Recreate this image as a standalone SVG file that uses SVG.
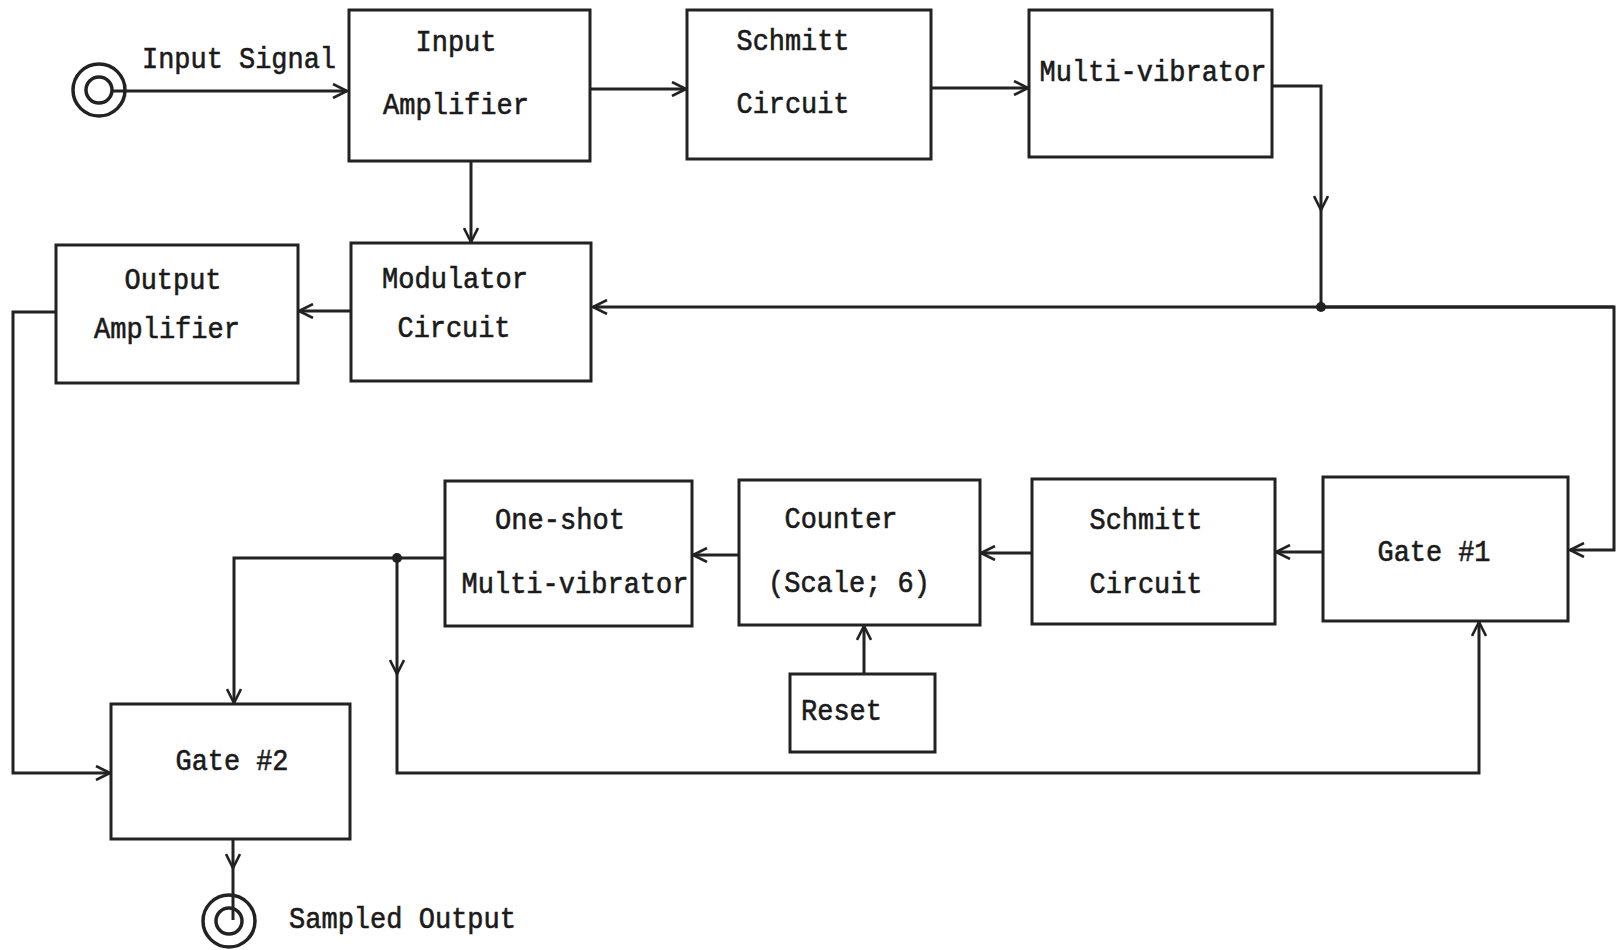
<svg xmlns="http://www.w3.org/2000/svg" width="1616" height="950" viewBox="0 0 1616 950">
<defs>
<marker id="arr" viewBox="0 0 16 16" refX="15" refY="8" markerWidth="16" markerHeight="16" markerUnits="userSpaceOnUse" orient="auto">
<path d="M1,1 L15,8 L1,15" fill="none" stroke="#222" stroke-width="2.6"/>
</marker>
<style>
.box{fill:#fff;stroke:#222;stroke-width:3}
.ln{fill:none;stroke:#222;stroke-width:3}
.t{font-family:"Liberation Mono","Courier New",monospace;font-size:29px;fill:#1a1a1a;stroke:#1a1a1a;stroke-width:0.6;text-anchor:middle}
.ts{text-anchor:start}
.dot{fill:#222}
.ring{fill:none;stroke:#222;stroke-width:3.5}
</style>
</defs>
<rect width="1616" height="950" fill="#fff"/>
<g id="connectors">
<path class="ln" d="M112,91 H347" marker-end="url(#arr)"/>
<path class="ln" d="M590,89 H686" marker-end="url(#arr)"/>
<path class="ln" d="M931,88 H1028" marker-end="url(#arr)"/>
<path class="ln" d="M1272,86 H1321 V210" marker-end="url(#arr)"/>
<path class="ln" d="M1321,206 V307"/>
<path class="ln" d="M1614,307 H593" marker-end="url(#arr)"/>
<path class="ln" d="M1321,307 H1614 V550 H1570" marker-end="url(#arr)"/>
<path class="ln" d="M471,161 V242" marker-end="url(#arr)"/>
<path class="ln" d="M351,311 H299" marker-end="url(#arr)"/>
<path class="ln" d="M56,312 H13 V773 H110" marker-end="url(#arr)"/>
<path class="ln" d="M233,839 V868" marker-end="url(#arr)"/>
<path class="ln" d="M233,864 V920"/>
<path class="ln" d="M1323,552 H1276" marker-end="url(#arr)"/>
<path class="ln" d="M1032,553 H981" marker-end="url(#arr)"/>
<path class="ln" d="M739,555 H693" marker-end="url(#arr)"/>
<path class="ln" d="M445,558 H234 V703" marker-end="url(#arr)"/>
<path class="ln" d="M397,558 V674" marker-end="url(#arr)"/>
<path class="ln" d="M397,670 V773 H1479 V622" marker-end="url(#arr)"/>
<path class="ln" d="M864,674 V626" marker-end="url(#arr)"/>
<circle class="dot" cx="1321" cy="307" r="5"/>
<circle class="dot" cx="397" cy="558" r="5"/>
</g>
<g id="input-terminal">
<circle class="ring" cx="99" cy="90" r="26"/>
<circle class="ring" cx="99" cy="90" r="13"/>
<text class="t ts" x="142" y="68" textLength="194" lengthAdjust="spacingAndGlyphs">Input Signal</text>
</g>
<g id="input-amplifier">
<rect class="box" x="349" y="10" width="241" height="151"/>
<text class="t" x="456" y="51" textLength="81" lengthAdjust="spacingAndGlyphs">Input</text>
<text class="t" x="456" y="114" textLength="146" lengthAdjust="spacingAndGlyphs">Amplifier</text>
</g>
<g id="schmitt-1">
<rect class="box" x="687" y="10" width="244" height="149"/>
<text class="t" x="793" y="50" textLength="113" lengthAdjust="spacingAndGlyphs">Schmitt</text>
<text class="t" x="793" y="113" textLength="113" lengthAdjust="spacingAndGlyphs">Circuit</text>
</g>
<g id="multivibrator">
<rect class="box" x="1029" y="10" width="243" height="147"/>
<text class="t" x="1153" y="81" textLength="227" lengthAdjust="spacingAndGlyphs">Multi-vibrator</text>
</g>
<g id="output-amplifier">
<rect class="box" x="56" y="245" width="242" height="138"/>
<text class="t" x="173" y="289" textLength="97" lengthAdjust="spacingAndGlyphs">Output</text>
<text class="t" x="167" y="338" textLength="146" lengthAdjust="spacingAndGlyphs">Amplifier</text>
</g>
<g id="modulator">
<rect class="box" x="351" y="243" width="240" height="138"/>
<text class="t" x="455" y="288" textLength="146" lengthAdjust="spacingAndGlyphs">Modulator</text>
<text class="t" x="454" y="337" textLength="113" lengthAdjust="spacingAndGlyphs">Circuit</text>
</g>
<g id="one-shot">
<rect class="box" x="445" y="481" width="247" height="145"/>
<text class="t" x="560" y="529" textLength="130" lengthAdjust="spacingAndGlyphs">One-shot</text>
<text class="t" x="575" y="593" textLength="227" lengthAdjust="spacingAndGlyphs">Multi-vibrator</text>
</g>
<g id="counter">
<rect class="box" x="739" y="480" width="241" height="145"/>
<text class="t" x="841" y="528" textLength="113" lengthAdjust="spacingAndGlyphs">Counter</text>
<text class="t" x="849" y="592" textLength="162" lengthAdjust="spacingAndGlyphs">(Scale; 6)</text>
</g>
<g id="schmitt-2">
<rect class="box" x="1032" y="479" width="243" height="145"/>
<text class="t" x="1146" y="529" textLength="113" lengthAdjust="spacingAndGlyphs">Schmitt</text>
<text class="t" x="1146" y="593" textLength="113" lengthAdjust="spacingAndGlyphs">Circuit</text>
</g>
<g id="gate-1">
<rect class="box" x="1323" y="477" width="245" height="144"/>
<text class="t" x="1434" y="561" textLength="113" lengthAdjust="spacingAndGlyphs">Gate #1</text>
</g>
<g id="reset">
<rect class="box" x="790" y="674" width="145" height="78"/>
<text class="t ts" x="801" y="720" textLength="81" lengthAdjust="spacingAndGlyphs">Reset</text>
</g>
<g id="gate-2">
<rect class="box" x="111" y="704" width="239" height="135"/>
<text class="t" x="232" y="770" textLength="113" lengthAdjust="spacingAndGlyphs">Gate #2</text>
</g>
<g id="output-terminal">
<circle class="ring" cx="229" cy="921" r="26"/>
<circle class="ring" cx="229" cy="921" r="13"/>
<text class="t ts" x="289" y="928" textLength="227" lengthAdjust="spacingAndGlyphs">Sampled Output</text>
</g>
</svg>
